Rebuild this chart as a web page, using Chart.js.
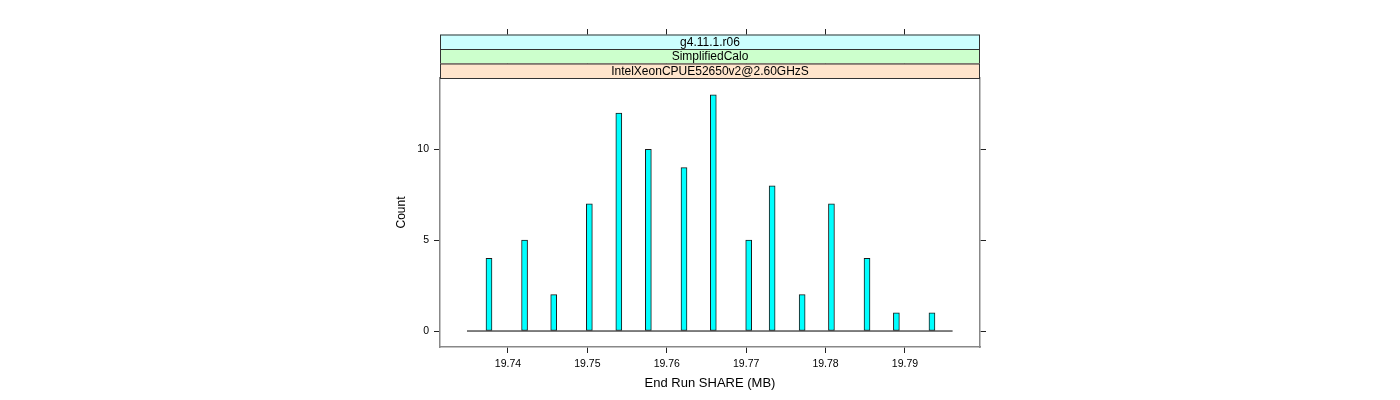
<!DOCTYPE html>
<html lang="en">
<head>
    <meta charset="UTF-8">
    <title>End Run SHARE (MB) - histogram</title>
    <script src="https://cdn.jsdelivr.net/npm/chart.js"></script>
    <style>
        body { margin: 0; background: #fff; }
        #wrap { width: 1400px; height: 400px; position: relative; }
    </style>
</head>
<body>
    <div id="wrap"><canvas id="histChart"></canvas></div>

    <script>
        // values
        const binCenters = [19.73761, 19.74209, 19.74576, 19.75025, 19.75396, 19.75768, 19.76217, 19.76586,
                            19.77032, 19.77327, 19.77705, 19.78074, 19.78522, 19.78892, 19.79340];
        const counts = [4, 5, 2, 7, 12, 10, 9, 13, 5, 8, 2, 7, 4, 1, 1];
        const baselineRange = [19.73484, 19.79600];   // where the zero line of the histogram runs
        const xTicks = [19.74, 19.75, 19.76, 19.77, 19.78, 19.79];
        const yTicks = [0, 5, 10];
        const xRange = [19.73144, 19.79945];
        const yRange = [-0.88, 13.93];
        const stripLabels = ['g4.11.1.r06', 'SimplifiedCalo', 'IntelXeonCPUE52650v2@2.60GHzS'];
        const stripColors = ['#ccffff', '#ccffcc', '#ffe5cc'];

        Chart.defaults.font.family = '"Liberation Sans", Arial, Helvetica, sans-serif';
        Chart.defaults.color = '#000';

        const setTicks = list => scale => { scale.ticks = list.map(v => ({ value: v })); };

        // strips drawn over the top axis so only the little tick stubs stay visible
        const stripPlugin = {
            id: 'strips',
            afterDraw(chart) {
                const { ctx, chartArea } = chart;
                const top = 34.5;
                const h = (chartArea.top - top) / stripLabels.length;
                ctx.save();
                stripLabels.forEach((label, i) => {
                    const y = top + i * h;
                    ctx.fillStyle = stripColors[i];
                    ctx.fillRect(chartArea.left, y, chartArea.right - chartArea.left, h);
                    ctx.strokeStyle = '#333';
                    ctx.lineWidth = 1;
                    ctx.strokeRect(chartArea.left + 0.5, y + 0.5, chartArea.right - chartArea.left - 1, h);
                    ctx.fillStyle = '#000';
                    ctx.font = '12px "Liberation Sans", Arial, sans-serif';
                    ctx.textAlign = 'center';
                    ctx.textBaseline = 'middle';
                    ctx.fillText(label, (chartArea.left + chartArea.right) / 2, y + h / 2 + 0.5);
                });
                ctx.restore();
            }
        };

        const tickGrid = len => ({ drawOnChartArea: false, drawTicks: true, tickLength: len, color: '#222', lineWidth: 1, offset: false });
        const panelBorder = { display: true, color: '#888', width: 1.5 };

        new Chart(document.getElementById('histChart'), {
            type: 'bar',
            data: {
                datasets: [
                    {
                        type: 'line',
                        data: baselineRange.map(x => ({ x: x, y: 0 })),
                        borderColor: '#000',
                        borderWidth: 1,
                        pointRadius: 0,
                        order: 2
                    },
                    {
                        type: 'bar',
                        data: binCenters.map((x, i) => ({ x: x, y: counts[i] })),
                        backgroundColor: '#00ffff',
                        borderColor: '#1a1a1a',
                        borderWidth: 1,
                        borderSkipped: false,
                        barThickness: 6,
                        order: 1
                    }
                ]
            },
            options: {
                responsive: true,
                maintainAspectRatio: false,
                animation: false,
                layout: { padding: { left: 390, right: 414, top: 0, bottom: 0 } },
                plugins: { legend: { display: false }, tooltip: { enabled: false } },
                scales: {
                    x: {
                        type: 'linear',
                        position: 'bottom',
                        offset: false,
                        min: xRange[0],
                        max: xRange[1],
                        afterBuildTicks: setTicks(xTicks),
                        afterFit: s => { s.height = 53; },
                        grid: tickGrid(6),
                        border: panelBorder,
                        ticks: {
                            font: { size: 10.5 },
                            padding: 5,
                            maxRotation: 0,
                            autoSkip: false,
                            callback: v => v.toFixed(2)
                        },
                        title: {
                            display: true,
                            text: 'End Run SHARE (MB)',
                            font: { size: 13 },
                            padding: { top: 0, bottom: 9 }
                        }
                    },
                    xTop: {
                        type: 'linear',
                        position: 'top',
                        offset: false,
                        min: xRange[0],
                        max: xRange[1],
                        afterBuildTicks: setTicks(xTicks),
                        afterFit: s => { s.height = 78; },
                        grid: tickGrid(49),
                        border: { display: false },
                        ticks: { display: false }
                    },
                    y: {
                        type: 'linear',
                        position: 'left',
                        min: yRange[0],
                        max: yRange[1],
                        afterBuildTicks: setTicks(yTicks),
                        afterFit: s => { s.width = 50; },
                        grid: tickGrid(6),
                        border: panelBorder,
                        ticks: { font: { size: 10.5 }, padding: 5 },
                        title: {
                            display: true,
                            text: 'Count',
                            font: { size: 12 },
                            padding: { top: 4, bottom: 0 }
                        }
                    },
                    yRight: {
                        type: 'linear',
                        position: 'right',
                        min: yRange[0],
                        max: yRange[1],
                        afterBuildTicks: setTicks(yTicks),
                        afterFit: s => { s.width = 6; },
                        grid: tickGrid(6),
                        border: panelBorder,
                        ticks: { display: false }
                    }
                }
            },
            plugins: [stripPlugin]
        });
    </script>
</body>
</html>
